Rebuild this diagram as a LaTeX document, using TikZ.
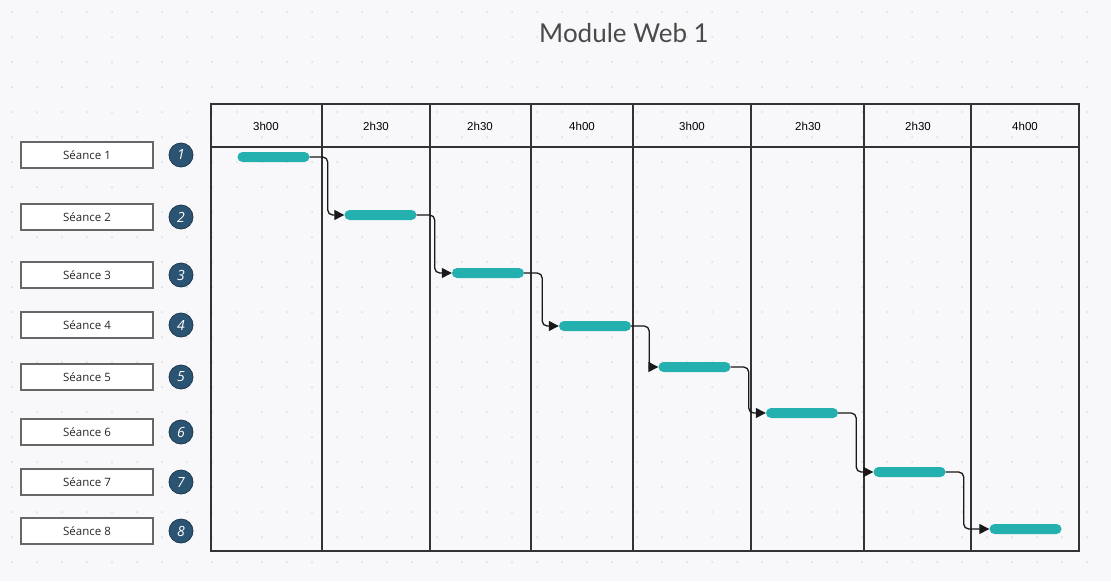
\documentclass[tikz,border=0pt]{standalone}
\usepackage{fontspec}
\setmainfont{Open Sans}
\newfontfamily\titlefont{Lato}
\newfontfamily\headfont{Liberation Sans}
\usetikzlibrary{arrows.meta,positioning,calc}
\definecolor{canvasbg}{HTML}{F8F8FA}
\definecolor{griddot}{HTML}{D9DCE3}
\definecolor{gridline}{HTML}{333333}
\definecolor{barteal}{HTML}{24B0AE}
\definecolor{badgeblue}{HTML}{2B5372}
\definecolor{titlegray}{HTML}{4A4A4A}
\tikzset{
  seance/.style={rectangle,minimum width=132pt,minimum height=26pt,inner sep=0pt,
    draw=gray!80!black,fill=white,line width=1.1pt,text=black!85,
    font=\fontsize{11.5}{13}\selectfont},
  badge/.style={circle,minimum size=24pt,inner sep=0pt,draw=badgeblue!70!black,
    fill=badgeblue,line width=0.8pt,text=white,font=\fontsize{14}{16}\selectfont\itshape},
  bar/.style={rectangle,rounded corners=5pt,minimum height=10pt,minimum width=72pt,
    inner sep=0pt,fill=barteal},
  hdr/.style={font=\headfont\fontsize{11.5}{13}\selectfont,text=black},
  frame/.style={draw=gridline,line width=1.4pt},
  flow/.style={-{Triangle[length=10pt,width=10pt]},line width=1.3pt,black!90,rounded corners=5pt},
}

\begin{document}
\begin{tikzpicture}[x=1pt,y=-1pt]
  \fill[canvasbg] (0,0) rectangle (1111,581);
  \useasboundingbox (0,0) rectangle (1111,581);
  % dotted canvas
  \foreach \gx in {12,37,...,1111}
    \foreach \gy in {12,37,...,581}
      \fill[griddot] (\gx,\gy) circle (1pt);
  \node[font=\titlefont\fontsize{26}{30}\selectfont,text=titlegray] (title) at (624,33) {Module Web 1};
  % table
  \draw[frame] (211,104) rectangle (1079,551);
  \draw[frame] (211,147) -- (1079,147);
  \foreach \cx in {322,430,531,633,751,864,971}
    \draw[frame] (\cx,104) -- (\cx,551);
  \node[hdr] (h1) at (266,126) {3h00};
  \node[hdr] (h2) at (376,126) {2h30};
  \node[hdr] (h3) at (480,126) {2h30};
  \node[hdr] (h4) at (582,126) {4h00};
  \node[hdr] (h5) at (692,126) {3h00};
  \node[hdr] (h6) at (808,126) {2h30};
  \node[hdr] (h7) at (918,126) {2h30};
  \node[hdr] (h8) at (1025,126) {4h00};
  % sessions
  \foreach \i/\ry in {1/155,2/217,3/275,4/325,5/377,6/432,7/482,8/531}{
    \node[seance] (s\i) at (87,\ry) {Séance \i};
    \node[badge] (n\i) at (181,\ry) {\i};
  }
  % bars
  \foreach \i/\bx/\by in {1/273.5/157,2/380.5/215,3/488/273,4/595/326,
                          5/694.5/367,6/802/413,7/909.5/472,8/1025.5/529}
    \node[bar] (b\i) at (\bx,\by) {};
  % links
  \foreach \i [evaluate=\i as \j using int(\i+1)] in {1,...,7}
    \draw[flow] (b\i.east) -- ++(18,0) |- (b\j.west);
\end{tikzpicture}
\end{document}
